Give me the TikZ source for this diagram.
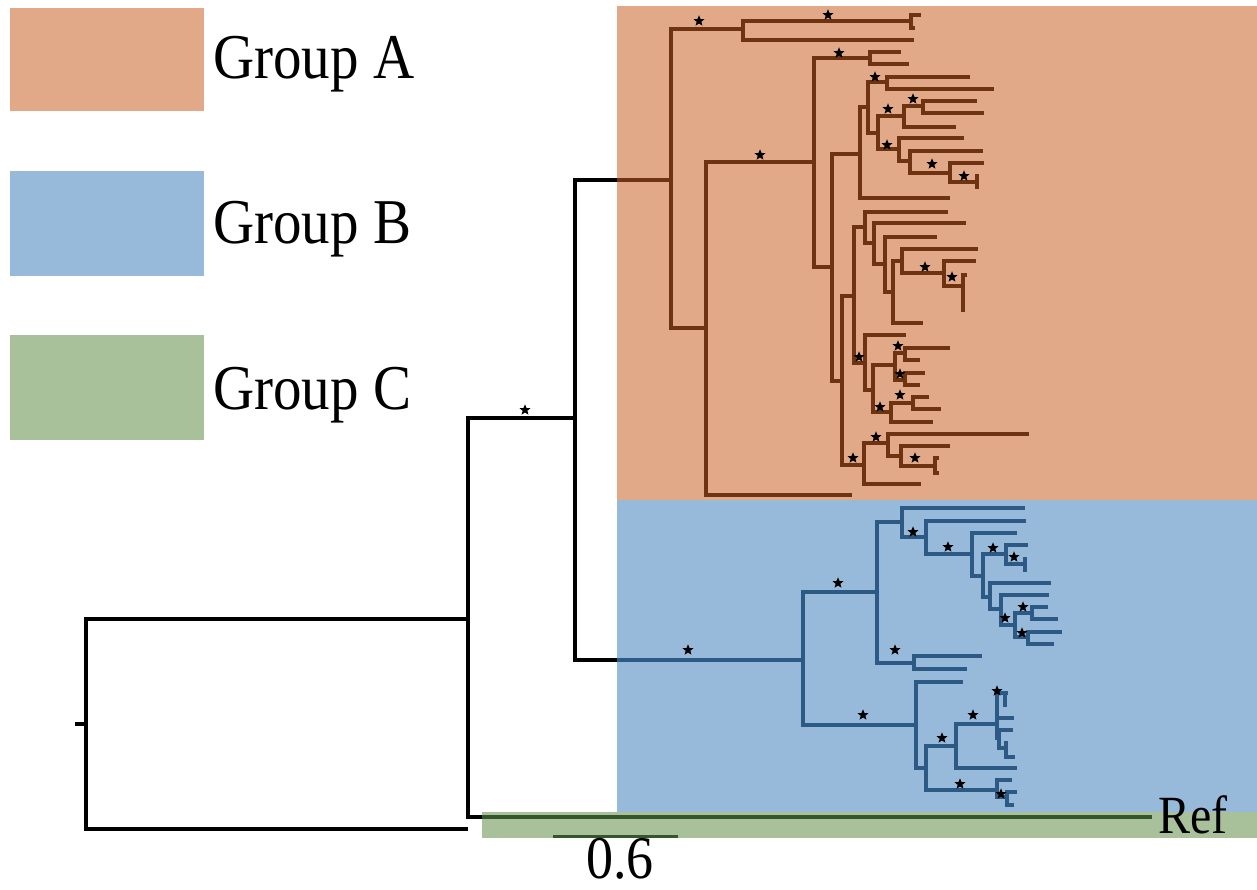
\documentclass[tikz,border=0pt]{standalone}
\usepackage{fontspec}
\setmainfont{Liberation Serif}
\usetikzlibrary{shapes.geometric}
\definecolor{bgA}{HTML}{E1A987}
\definecolor{bgB}{HTML}{97B9DA}
\definecolor{bgC}{HTML}{A8C19B}
\definecolor{lnA}{HTML}{6E3412}
\definecolor{lnB}{HTML}{2D5A84}
\definecolor{lnC}{HTML}{35552A}
\newcommand{\talltext}[1]{\scalebox{1}[1.12]{#1}}
\begin{document}
\begin{tikzpicture}[x=1pt,y=-1pt,
  branchline/.style={line width=3.2pt, line join=miter, line cap=butt},
  supp/.style={star, star points=5, star point ratio=2.3, fill=black, draw=none, inner sep=0pt, minimum size=11.5pt},
  legendtext/.style={anchor=base west, inner sep=0pt, font=\fontsize{57}{60}\selectfont},
  tiplabel/.style={anchor=base west, inner sep=0pt, font=\fontsize{48}{50}\selectfont},
  scaletext/.style={anchor=base, inner sep=0pt, font=\fontsize{54}{56}\selectfont}]
\useasboundingbox (0,0) rectangle (1257,890);
\fill[white] (0,0) rectangle (1257,890);

% clade shading
\fill[bgA] (617,6) rectangle (1257,500);
\fill[bgB] (617,500) rectangle (1257,812);
\fill[bgC] (482,812) rectangle (1257,838);

% legend
\fill[bgA] (10,8) rectangle (204,111);
\fill[bgB] (10,171) rectangle (204,276);
\fill[bgC] (10,335) rectangle (204,440);
\node[legendtext] (labA) at (213,79) {\talltext{Group A}};
\node[legendtext] (labB) at (213,244) {\talltext{Group B}};
\node[legendtext] (labC) at (213,409) {\talltext{Group C}};

% backbone
\draw[branchline, black]
  (75,724) -- (86,724)
  (468,619) -- (86,619) -- (86,829) -- (468,829)
  (575,418) -- (468,418) -- (468,817) -- (482,817)
  (617,180) -- (575,180) -- (575,660) -- (617,660);

% reference branch
\draw[branchline, lnC] (482,817) -- (1152,817);
\node[tiplabel] (ref) at (1158,833) {\talltext{Ref}};

% group A
\draw[branchline, lnA]
  (617,180) -- (671,180)
  (743,29) -- (671,29) -- (671,328) -- (706,328)
  (911,21) -- (743,21) -- (743,40) -- (914,40)
  (921,15) -- (911,15) -- (911,28) -- (915,28)
  (814,162) -- (706,162) -- (706,495) -- (852,495)
  (870,58) -- (814,58) -- (814,267) -- (832,267)
  (901,52) -- (870,52) -- (870,64) -- (909,64)
  (860,154) -- (832,154) -- (832,381) -- (842,381)
  (868,107) -- (860,107) -- (860,198) -- (950,198)
  (887,82) -- (868,82) -- (868,133) -- (878,133)
  (970,77) -- (887,77) -- (887,89) -- (994,89)
  (904,116) -- (878,116) -- (878,149) -- (899,149)
  (923,106) -- (904,106) -- (904,127) -- (956,127)
  (977,101) -- (923,101) -- (923,113) -- (984,113)
  (964,138) -- (899,138) -- (899,161) -- (910,161)
  (983,151) -- (910,151) -- (910,173) -- (950,173)
  (984,163) -- (950,163) -- (950,182) -- (977,182)
  (977,174) -- (977,189)
  (854,296) -- (842,296) -- (842,465) -- (864,465)
  (865,227) -- (854,227) -- (854,363) -- (865,363)
  (948,212) -- (865,212) -- (865,243) -- (874,243)
  (966,223) -- (874,223) -- (874,264) -- (885,264)
  (937,237) -- (885,237) -- (885,292) -- (893,292)
  (902,261) -- (893,261) -- (893,323) -- (923,323)
  (978,249) -- (902,249) -- (902,273) -- (944,273)
  (976,261) -- (944,261) -- (944,286) -- (963,286)
  (967,275) -- (963,275) -- (963,312)
  (906,335) -- (865,335) -- (865,390) -- (873,390)
  (895,365) -- (873,365) -- (873,412) -- (891,412)
  (905,353) -- (895,353) -- (895,380) -- (905,380)
  (950,348) -- (905,348) -- (905,360) -- (920,360)
  (925,373) -- (905,373) -- (905,385) -- (920,385)
  (913,403) -- (891,403) -- (891,422) -- (933,422)
  (929,397) -- (913,397) -- (913,409) -- (941,409)
  (888,443) -- (864,443) -- (864,484) -- (921,484)
  (1029,434) -- (888,434) -- (888,456) -- (901,456)
  (950,446) -- (901,446) -- (901,466) -- (935,466)
  (939,458) -- (935,458) -- (935,473) -- (939,473);

% group B
\draw[branchline, lnB]
  (617,660) -- (803,660)
  (877,592) -- (803,592) -- (803,725) -- (916,725)
  (902,522) -- (877,522) -- (877,663) -- (914,663)
  (982,656) -- (914,656) -- (914,669) -- (967,669)
  (1025,508) -- (902,508) -- (902,537) -- (926,537)
  (1026,521) -- (926,521) -- (926,554) -- (972,554)
  (1017,533) -- (972,533) -- (972,576) -- (983,576)
  (1006,554) -- (983,554) -- (983,597) -- (990,597)
  (1028,545) -- (1006,545) -- (1006,564) -- (1025,564)
  (1025,557) -- (1025,572)
  (1051,583) -- (990,583) -- (990,609) -- (1001,609)
  (1049,595) -- (1001,595) -- (1001,625) -- (1015,625)
  (1032,613) -- (1015,613) -- (1015,637) -- (1028,637)
  (1048,607) -- (1032,607) -- (1032,619) -- (1058,619)
  (1062,632) -- (1028,632) -- (1028,644) -- (1054,644)
  (963,682) -- (916,682) -- (916,768) -- (926,768)
  (956,746) -- (926,746) -- (926,790) -- (997,790)
  (997,724) -- (956,724) -- (956,768) -- (1017,768)
  (1005,693) -- (997,693) -- (997,740)
  (1008,693) -- (1005,693) -- (1005,707)
  (997,718) -- (1014,718)
  (1013,730) -- (999,730) -- (999,748) -- (1006,748)
  (1008,743) -- (1006,743) -- (1006,757) -- (1015,757)
  (1012,780) -- (997,780) -- (997,797) -- (1007,797)
  (1017,792) -- (1007,792) -- (1007,805) -- (1014,805);

% support marks
\node[supp] (sR) at (525,410) {};
\foreach \p [count=\i] in {(699,21),(828,15),(839,53),(760,155),(875,77),(888,109),
    (913,99),(887,145),(932,164),(964,176),(925,267),(952,277),(859,357),(898,346),
    (900,374),(900,395),(880,407),(876,437),(853,458),(915,458)}
  \node[supp] (sA\i) at \p {};
\foreach \p [count=\i] in {(688,650),(838,583),(863,715),(895,650),(913,532),(948,547),
    (993,548),(1014,557),(1005,618),(1023,607),(1022,633),(942,738),(973,715),
    (997,691),(960,784),(1001,794)}
  \node[supp] (sB\i) at \p {};

% scale bar
\draw[line width=3pt, lnC] (553,836) -- (678,836);
\node[scaletext] (scl) at (620,878) {\talltext{0.6}};
\end{tikzpicture}
\end{document}
